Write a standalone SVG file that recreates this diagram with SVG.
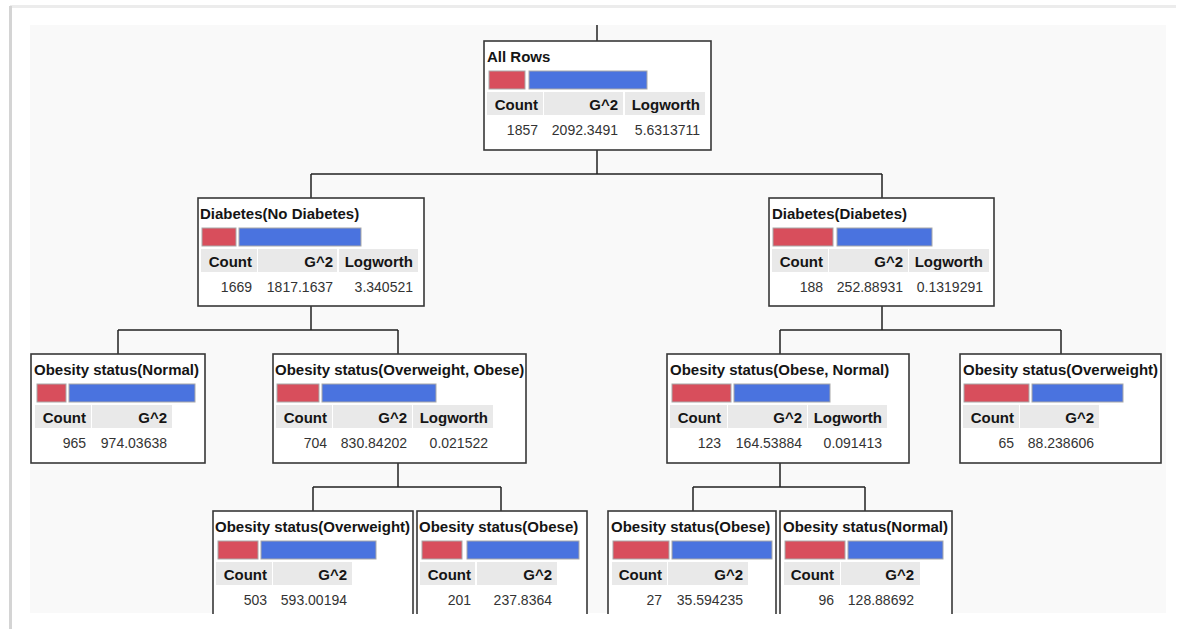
<svg xmlns="http://www.w3.org/2000/svg" width="1180" height="629" viewBox="0 0 1180 629">
<style>
.box{fill:#fff;stroke:#383838;stroke-width:1.6}
.red{fill:#d84e5c;stroke:#a8a8a8;stroke-width:1}
.blue{fill:#4a73df;stroke:#a8a8a8;stroke-width:1}
.hc{fill:#e9e9e9}
.t{font-family:"Liberation Sans",Arial,sans-serif;font-weight:bold;font-size:15px;fill:#151515}
.h{font-family:"Liberation Sans",Arial,sans-serif;font-weight:bold;font-size:15px;fill:#151515;text-anchor:end}
.v{font-family:"Liberation Sans",Arial,sans-serif;font-size:14px;fill:#333;text-anchor:end}
.c{fill:none;stroke:#222;stroke-width:1.5}
</style>
<rect x="0" y="0" width="1180" height="629" fill="#fff"/>
<rect x="30" y="25" width="1136" height="588" fill="#f9f9f9"/>
<g id="connectors">
<path class="c" d="M597 25V41"/>
<path class="c" d="M597 150V174M311 174H882M311 174V198M882 174V198"/>
<path class="c" d="M311 306V330M118 330H398M118 330V354M398 330V354"/>
<path class="c" d="M882 306V330M780 330H1061M780 330V354M1061 330V354"/>
<path class="c" d="M398 463V487M313 487H501M313 487V511M501 487V511"/>
<path class="c" d="M780 463V487M693 487H865M693 487V511M865 487V511"/>
</g>
<g id="node-all-rows">
<rect class="box" x="484" y="41" width="227" height="109"/>
<text class="t" x="487" y="62">All Rows</text>
<rect class="red" x="489" y="71" width="36" height="18"/>
<rect class="blue" x="529" y="71" width="118" height="18"/>
<rect class="hc" x="487" y="92" width="56" height="23"/><rect class="hc" x="544" y="92" width="79" height="23"/><rect class="hc" x="625" y="92" width="80" height="23"/>
<text class="h" x="538" y="110">Count</text><text class="h" x="618" y="110">G^2</text><text class="h" x="700" y="110">Logworth</text>
<text class="v" x="538" y="135">1857</text><text class="v" x="618" y="135">2092.3491</text><text class="v" x="700" y="135">5.6313711</text>
</g>
<g id="node-no-diabetes">
<rect class="box" x="198" y="198" width="226" height="108"/>
<text class="t" x="200" y="219">Diabetes(No Diabetes)</text>
<rect class="red" x="202" y="228" width="34" height="18"/>
<rect class="blue" x="239" y="228" width="122" height="18"/>
<rect class="hc" x="201" y="249" width="56" height="23"/><rect class="hc" x="258" y="249" width="79" height="23"/><rect class="hc" x="339" y="249" width="79" height="23"/>
<text class="h" x="252" y="267">Count</text><text class="h" x="333" y="267">G^2</text><text class="h" x="413" y="267">Logworth</text>
<text class="v" x="252" y="292">1669</text><text class="v" x="333" y="292">1817.1637</text><text class="v" x="413" y="292">3.340521</text>
</g>
<g id="node-diabetes">
<rect class="box" x="769" y="198" width="225" height="108"/>
<text class="t" x="772" y="219">Diabetes(Diabetes)</text>
<rect class="red" x="773" y="228" width="60" height="18"/>
<rect class="blue" x="837" y="228" width="95" height="18"/>
<rect class="hc" x="772" y="249" width="56" height="23"/><rect class="hc" x="829" y="249" width="79" height="23"/><rect class="hc" x="909" y="249" width="80" height="23"/>
<text class="h" x="823" y="267">Count</text><text class="h" x="903" y="267">G^2</text><text class="h" x="983" y="267">Logworth</text>
<text class="v" x="823" y="292">188</text><text class="v" x="903" y="292">252.88931</text><text class="v" x="983" y="292">0.1319291</text>
</g>
<g id="node-obesity-normal">
<rect class="box" x="31" y="354" width="174" height="109"/>
<text class="t" x="34" y="375">Obesity status(Normal)</text>
<rect class="red" x="37" y="384" width="29" height="18"/>
<rect class="blue" x="69" y="384" width="126" height="18"/>
<rect class="hc" x="35" y="405" width="56" height="23"/><rect class="hc" x="92" y="405" width="80" height="23"/>
<text class="h" x="86" y="423">Count</text><text class="h" x="167" y="423">G^2</text>
<text class="v" x="86" y="448">965</text><text class="v" x="167" y="448">974.03638</text>
</g>
<g id="node-obesity-overweight-obese">
<rect class="box" x="273" y="354" width="253" height="109"/>
<text class="t" x="275" y="375">Obesity status(Overweight, Obese)</text>
<rect class="red" x="277" y="384" width="42" height="18"/>
<rect class="blue" x="322" y="384" width="114" height="18"/>
<rect class="hc" x="276" y="405" width="56" height="23"/><rect class="hc" x="333" y="405" width="79" height="23"/><rect class="hc" x="413" y="405" width="80" height="23"/>
<text class="h" x="327" y="423">Count</text><text class="h" x="407" y="423">G^2</text><text class="h" x="488" y="423">Logworth</text>
<text class="v" x="327" y="448">704</text><text class="v" x="407" y="448">830.84202</text><text class="v" x="488" y="448">0.021522</text>
</g>
<g id="node-obesity-obese-normal">
<rect class="box" x="667" y="354" width="242" height="109"/>
<text class="t" x="670" y="375">Obesity status(Obese, Normal)</text>
<rect class="red" x="672" y="384" width="59" height="18"/>
<rect class="blue" x="734" y="384" width="96" height="18"/>
<rect class="hc" x="670" y="405" width="57" height="23"/><rect class="hc" x="728" y="405" width="79" height="23"/><rect class="hc" x="808" y="405" width="79" height="23"/>
<text class="h" x="721" y="423">Count</text><text class="h" x="802" y="423">G^2</text><text class="h" x="882" y="423">Logworth</text>
<text class="v" x="721" y="448">123</text><text class="v" x="802" y="448">164.53884</text><text class="v" x="882" y="448">0.091413</text>
</g>
<g id="node-obesity-overweight">
<rect class="box" x="960" y="354" width="201" height="109"/>
<text class="t" x="963" y="375">Obesity status(Overweight)</text>
<rect class="red" x="964" y="384" width="65" height="18"/>
<rect class="blue" x="1032" y="384" width="91" height="18"/>
<rect class="hc" x="963" y="405" width="56" height="23"/><rect class="hc" x="1020" y="405" width="79" height="23"/>
<text class="h" x="1014" y="423">Count</text><text class="h" x="1094" y="423">G^2</text>
<text class="v" x="1014" y="448">65</text><text class="v" x="1094" y="448">88.238606</text>
</g>
<g id="node-obesity-overweight-2">
<rect class="box" x="213" y="511" width="200" height="130"/>
<text class="t" x="215" y="532">Obesity status(Overweight)</text>
<rect class="red" x="218" y="541" width="40" height="18"/>
<rect class="blue" x="261" y="541" width="115" height="18"/>
<rect class="hc" x="216" y="562" width="56" height="23"/><rect class="hc" x="273" y="562" width="79" height="23"/>
<text class="h" x="267" y="580">Count</text><text class="h" x="347" y="580">G^2</text>
<text class="v" x="267" y="605">503</text><text class="v" x="347" y="605">593.00194</text>
</g>
<g id="node-obesity-obese-2">
<rect class="box" x="417" y="511" width="170" height="130"/>
<text class="t" x="419" y="532">Obesity status(Obese)</text>
<rect class="red" x="422" y="541" width="40" height="18"/>
<rect class="blue" x="467" y="541" width="112" height="18"/>
<rect class="hc" x="420" y="562" width="55" height="23"/><rect class="hc" x="477" y="562" width="80" height="23"/>
<text class="h" x="471" y="580">Count</text><text class="h" x="552" y="580">G^2</text>
<text class="v" x="471" y="605">201</text><text class="v" x="552" y="605">237.8364</text>
</g>
<g id="node-obesity-obese-3">
<rect class="box" x="608" y="511" width="168" height="130"/>
<text class="t" x="611" y="532">Obesity status(Obese)</text>
<rect class="red" x="613" y="541" width="56" height="18"/>
<rect class="blue" x="672" y="541" width="100" height="18"/>
<rect class="hc" x="612" y="562" width="55" height="23"/><rect class="hc" x="668" y="562" width="80" height="23"/>
<text class="h" x="662" y="580">Count</text><text class="h" x="743" y="580">G^2</text>
<text class="v" x="662" y="605">27</text><text class="v" x="743" y="605">35.594235</text>
</g>
<g id="node-obesity-normal-3">
<rect class="box" x="780" y="511" width="172" height="130"/>
<text class="t" x="783" y="532">Obesity status(Normal)</text>
<rect class="red" x="785" y="541" width="60" height="18"/>
<rect class="blue" x="848" y="541" width="95" height="18"/>
<rect class="hc" x="784" y="562" width="56" height="23"/><rect class="hc" x="841" y="562" width="79" height="23"/>
<text class="h" x="834" y="580">Count</text><text class="h" x="914" y="580">G^2</text>
<text class="v" x="834" y="605">96</text><text class="v" x="914" y="605">128.88692</text>
</g>
<rect x="0" y="614" width="1180" height="15" fill="#fff"/>
<rect x="10" y="5" width="1166" height="3" fill="#ececec"/>
<rect x="9" y="6" width="3" height="623" fill="#d4d4d4"/>
</svg>
